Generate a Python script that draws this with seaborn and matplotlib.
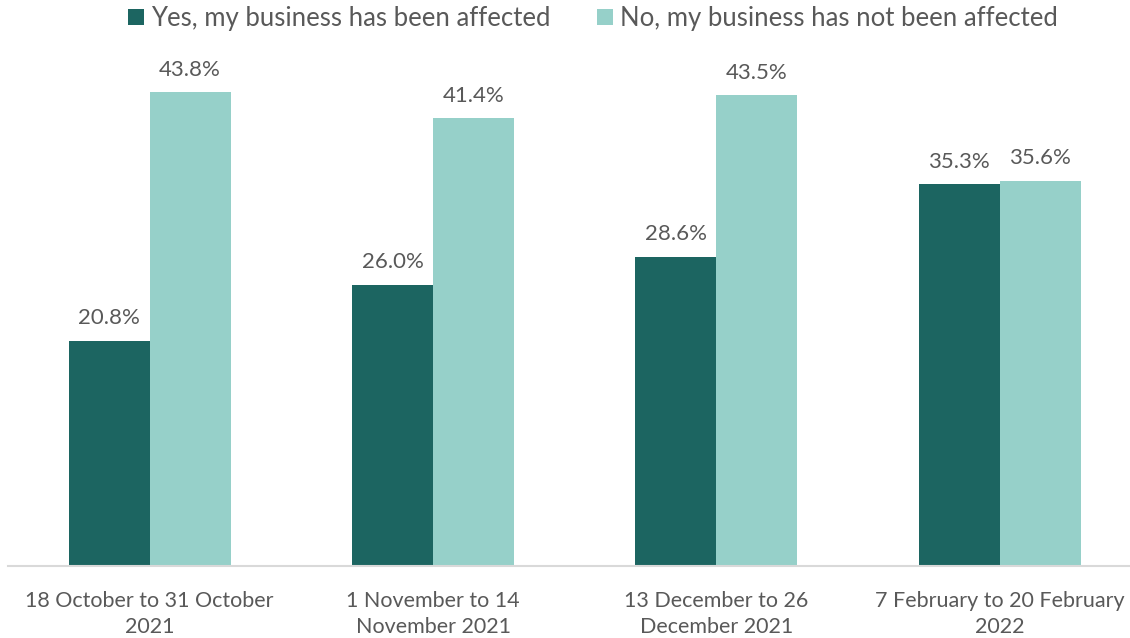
import matplotlib
matplotlib.use("Agg")
import matplotlib.pyplot as plt
import seaborn as sns
import pandas as pd

periods = [
    "18 October to 31 October\n2021",
    "1 November to 14\nNovember 2021",
    "13 December to 26\nDecember 2021",
    "7 February to 20 February\n2022",
]
series_names = [
    "Yes, my business has been affected",
    "No, my business has not been affected",
]
affected = [20.8, 26.0, 28.6, 35.3]
not_affected = [43.8, 41.4, 43.5, 35.6]
colors = ["#1C6561", "#96D0C9"]

df = pd.DataFrame({
    "period": periods * 2,
    "series": [series_names[0]] * 4 + [series_names[1]] * 4,
    "value": affected + not_affected,
})

sns.set_theme(style="white")
plt.rcParams["font.family"] = ["Lato", "DejaVu Sans"]
text_color = "#595959"

fig = plt.figure(figsize=(11.3, 6.38), dpi=100)
ax = fig.add_axes([8 / 1130, (638 - 566) / 638, 1122 / 1130, (566 - 25) / 638])

sns.barplot(data=df, x="period", y="value", hue="series", order=periods,
            hue_order=series_names, palette=colors, width=0.572,
            saturation=1, ax=ax, linewidth=0)

for container in ax.containers:
    ax.bar_label(container, labels=[f"{v:.1f}%" for v in container.datavalues],
                 padding=9, fontsize=16, color=text_color)

ax.set_ylim(0, 50)
ax.set_xlim(-0.5, 3.46)
ax.set_xlabel("")
ax.set_ylabel("")
ax.set_yticks([])
for side in ["left", "right", "top"]:
    ax.spines[side].set_visible(False)
ax.spines["bottom"].set_color("#D9D9D9")
ax.spines["bottom"].set_linewidth(1.5)
ax.tick_params(axis="x", length=0, pad=18, labelsize=15.5, labelcolor=text_color)
for lbl in ax.get_xticklabels():
    lbl.set_linespacing(1.35)

handles, labels = ax.get_legend_handles_labels()
ax.legend_.remove()
leg = fig.legend(handles, labels, loc="center", bbox_to_anchor=(0.525, 0.971),
                 ncol=2, frameon=False, fontsize=18.5, handlelength=0.6,
                 handleheight=0.6, handletextpad=0.3, columnspacing=1.8)
for t in leg.get_texts():
    t.set_color(text_color)

fig.savefig("out.png", dpi=100)
